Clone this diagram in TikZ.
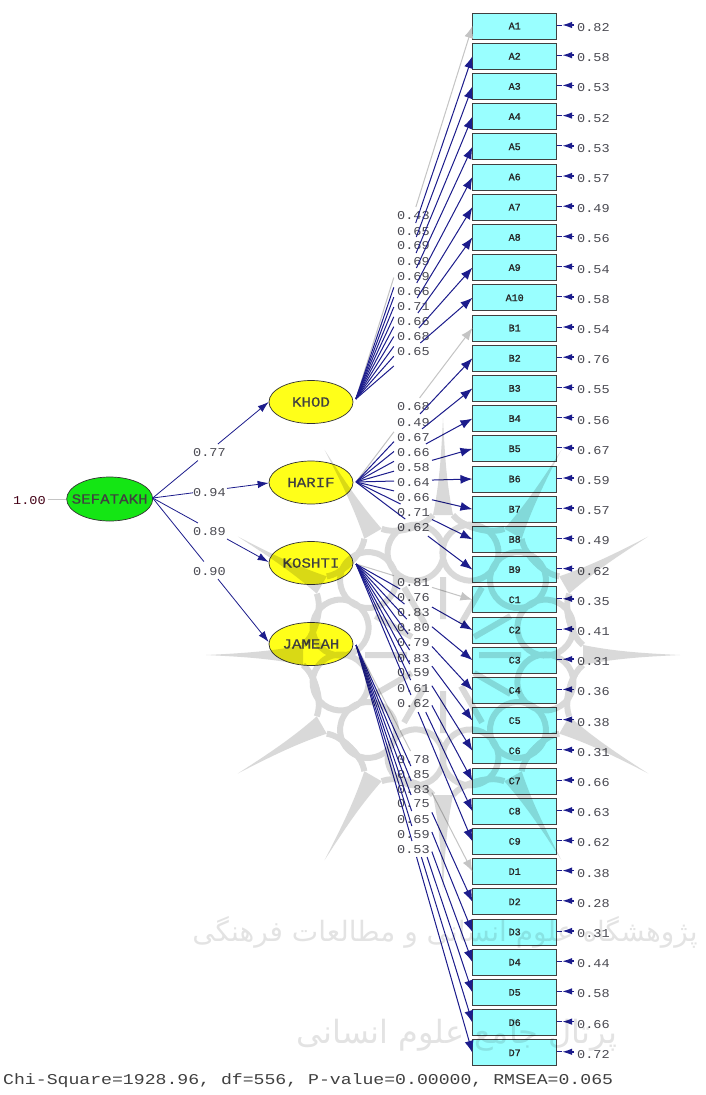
\documentclass[tikz,border=0pt]{standalone}
\usepackage{fontspec}
\usetikzlibrary{arrows.meta,shapes.geometric,calc}
\TeXXeTstate=1
\newfontfamily\numf[FakeStretch=1.13]{Liberation Mono}
\newfontfamily\latf[FakeStretch=1.13,FakeBold=0.4]{Liberation Mono}
\newfontfamily\chif[FakeStretch=1.21]{Liberation Mono}
\newfontfamily\boxf[FakeBold=1.2]{Liberation Mono}
\newfontfamily\arabicfont[Script=Arabic]{DejaVu Sans}
\definecolor{lnavy}{HTML}{1C1C8C}
\definecolor{lgray}{HTML}{C4C4C4}
\definecolor{lab}{HTML}{4A4A52}
\definecolor{cy}{HTML}{99FFFF}
\definecolor{yel}{HTML}{FFFF19}
\definecolor{grn}{HTML}{14E614}
\tikzset{
  x=1pt,y=-1pt,
  obsbox/.style={draw=black!75,line width=1pt,fill=cy,minimum width=83.5pt,minimum height=26pt,inner sep=0pt,font=\boxf\fontsize{10}{10}\selectfont,text=black!85},
  latent/.style={ellipse,draw=black!80,line width=0.7pt,fill=yel,minimum width=84pt,minimum height=43pt,inner sep=-8pt,font=\latf\fontsize{14}{14}\selectfont,text=black!75},
  numlab/.style={font=\numf\fontsize{12}{12}\selectfont,text=lab,inner sep=0pt},
  conn/.style={line width=1pt,-{Latex[length=12pt,width=9pt]}},
  errarrow/.style={lnavy,line width=1.5pt,-{Latex[length=10pt,width=6.5pt]}},
  wmline/.style={black,line width=6pt}
}
\newcommand{\gapconn}[7]{% source y, source name, target name, target y, label y, column bottom, colour
  \pgfmathsetmacro{\ddx}{116.7}
  \pgfmathsetmacro{\ddy}{#4-#1}
  \pgfmathsetmacro{\LL}{veclen(\ddx,\ddy)}
  \pgfmathsetmacro{\tone}{\ddy>0?max(38/\ddx,(#5-9-#1)/\ddy):38/\ddx}
  \pgfmathsetmacro{\ttwo}{\ddy>0?min(76/\ddx,(#6+1-#1)/\ddy):min(76/\ddx,(#5-9-#1)/\ddy)}
  \pgfmathsetmacro{\don}{\tone*\LL}
  \pgfmathsetmacro{\doff}{(\ttwo-\tone)*\LL}
  \draw[conn,#7,dash pattern=on \don pt off \doff pt on 2000pt] (#2) -- (#3.west);
}
\begin{document}
\begin{tikzpicture}
\useasboundingbox (0,0) rectangle (705,1095);
\fill[white] (0,0) rectangle (705,1095);
% observed variables
\foreach \n/\txt/\err [count=\i from 0] in {A1/A1/0.82,A2/A2/0.58,A3/A3/0.53,A4/A4/0.52,A5/A5/0.53,A6/A6/0.57,A7/A7/0.49,A8/A8/0.56,A9/A9/0.54,A10/A10/0.58,B1/B1/0.54,B2/B2/0.76,B3/B3/0.55,B4/B4/0.56,B5/B5/0.67,B6/B6/0.59,B7/B7/0.57,B8/B8/0.49,B9/B9/0.62,C1/C1/0.35,C2/C2/0.41,C3/C3/0.31,C4/C4/0.36,C5/C5/0.38,C6/C6/0.31,C7/C7/0.66,C8/C8/0.63,C9/C9/0.62,D1/D1/0.38,D2/D2/0.28,D3/D3/0.31,D4/D4/0.44,D5/D5/0.58,D6/D6/0.66,D7/D7/0.72}{
  \pgfmathsetmacro{\yy}{26+30.2*\i}
  \node[obsbox] (\n) at (514.7,\yy) {\txt};
  \node[numlab,anchor=west] (e\n) at (577,\yy+1.5) {\err};
  \coordinate (f\n) at (574,\yy-1);
  \coordinate (g\n) at (562,\yy-1);
  \draw[errarrow] (f\n) -- (g\n);
  \draw[lnavy,line width=1pt] (g\n) -- (\n.east |- g\n);
}
% latent variables
\node[latent,fill=grn,minimum width=86pt,minimum height=44pt] (SEF) at (109.7,499) {SEFATAKH};
\node[latent] (KHOD) at (311,402) {KHOD};
\node[latent] (HARIF) at (311,482.5) {HARIF};
\node[latent] (KOSHTI) at (311,563) {KOSHTI};
\node[latent] (JAMEAH) at (311,644) {JAMEAH};
\coordinate (sK) at (355.8,399);
\coordinate (sH) at (356,482);
\coordinate (sO) at (356,564);
\coordinate (sJ) at (356,645);
% loadings
\foreach \T/\val/\ly [count=\i from 0] in {A1/0.43/216,A2/0.65/232,A3/0.69/246,A4/0.69/262,A5/0.69/277,A6/0.66/292,A7/0.71/307,A8/0.66/322,A9/0.68/337,A10/0.65/352}{
  \pgfmathsetmacro{\ty}{26+30.2*\i}
  \ifnum\i=0 \def\cc{lgray}\else\def\cc{lnavy}\fi
  \gapconn{399}{sK}{\T}{\ty}{\ly}{360}{\cc}
  \node[numlab,anchor=west] (l\T) at (397,\ly) {\val};
}
\foreach \T/\val/\ly [count=\i from 10] in {B1/0.68/407,B2/0.49/423,B3/0.67/438,B4/0.66/453,B5/0.58/468,B6/0.64/483,B7/0.66/498,B8/0.71/513,B9/0.62/528}{
  \pgfmathsetmacro{\ty}{26+30.2*\i}
  \ifnum\i=10 \def\cc{lgray}\else\def\cc{lnavy}\fi
  \gapconn{482}{sH}{\T}{\ty}{\ly}{535}{\cc}
  \node[numlab,anchor=west] (l\T) at (397,\ly) {\val};
}
\foreach \T/\val/\ly [count=\i from 19] in {C1/0.81/583,C2/0.76/598,C3/0.83/613,C4/0.80/628,C5/0.79/643,C6/0.83/659,C7/0.59/673,C8/0.61/689,C9/0.62/704}{
  \pgfmathsetmacro{\ty}{26+30.2*\i}
  \ifnum\i=19 \def\cc{lgray}\else\def\cc{lnavy}\fi
  \gapconn{564}{sO}{\T}{\ty}{\ly}{711}{\cc}
  \node[numlab,anchor=west] (l\T) at (397,\ly) {\val};
}
\foreach \T/\val/\ly [count=\i from 28] in {D1/0.78/760,D2/0.85/775,D3/0.83/790,D4/0.75/804,D5/0.65/820,D6/0.59/835,D7/0.53/850}{
  \pgfmathsetmacro{\ty}{26+30.2*\i}
  \ifnum\i=28 \def\cc{lgray}\else\def\cc{lnavy}\fi
  \gapconn{645}{sJ}{\T}{\ty}{\ly}{856}{\cc}
  \node[numlab,anchor=west] (l\T) at (397,\ly) {\val};
}
% structural paths
\coordinate (sS) at (152.7,498);
\foreach \T/\ty/\xa/\xb/\val/\ly in {KHOD/402/198/218/0.77/453,HARIF/483/193/227/0.94/493,KOSHTI/562/198/227/0.89/532,JAMEAH/642/204/218/0.90/572}{
  \pgfmathsetmacro{\ddx}{269-152.7}
  \pgfmathsetmacro{\ddy}{\ty-498}
  \pgfmathsetmacro{\LL}{veclen(\ddx,\ddy)}
  \pgfmathsetmacro{\don}{(\xa-152.7)/\ddx*\LL}
  \pgfmathsetmacro{\doff}{(\xb-\xa)/\ddx*\LL}
  \draw[lnavy,line width=0.8pt,-{Latex[length=11pt,width=7.5pt]},dash pattern=on \don pt off \doff pt on 2000pt] (sS) -- (\T.west |- 0,\ty);
  \node[numlab,anchor=west] (l\T) at (193,\ly) {\val};
}
\node[numlab,anchor=west,text=black!65!purple] (lSEF) at (13,500.5) {1.00};
\draw[lgray,line width=0.8pt] (lSEF.east)++(2,-1.5) -- (SEF.west);
\node[anchor=west,inner sep=0pt,font=\chif\fontsize{15}{15}\selectfont,text=black!75] (chi) at (3,1081) {Chi-Square=1928.96, df=556, P-value=0.00000, RMSEA=0.065};
% watermark
\begin{scope}[transparency group,opacity=0.15]
  \clip (0,0) rectangle (705,1095);
  \begin{scope}[shift={(443,655)}]
    \foreach \a in {0,30,...,330}{
      \begin{scope}[rotate=\a]
        \fill[black] (237,0) .. controls (195,2) and (170,4) .. (140,10) -- (140,-10) .. controls (170,-4) and (195,-2) .. (237,0) -- cycle;
        \draw[wmline] (140,10) .. controls (128,20) and (125,36) .. (124,50);
        \draw[wmline] (140,-10) .. controls (128,-20) and (125,-36) .. (124,-50);
        \draw[wmline] (15:106) circle (28);
        \draw[wmline] (36,0) -- (78,0);
      \end{scope}
    }
  \end{scope}
\end{scope}
\begin{scope}[transparency group,opacity=0.11]
  \node[anchor=center,inner sep=0pt,font=\arabicfont\fontsize{28}{28}\selectfont,text=black] (wm1) at (445,932) {\beginR پژوهشگاه علوم انسانی و مطالعات فرهنگی\endR};
  \node[anchor=center,inner sep=0pt,font=\arabicfont\fontsize{32}{32}\selectfont,text=black] (wm2) at (457,1035) {\beginR پرتال جامع علوم انسانی\endR};
\end{scope}
\end{tikzpicture}
\end{document}
